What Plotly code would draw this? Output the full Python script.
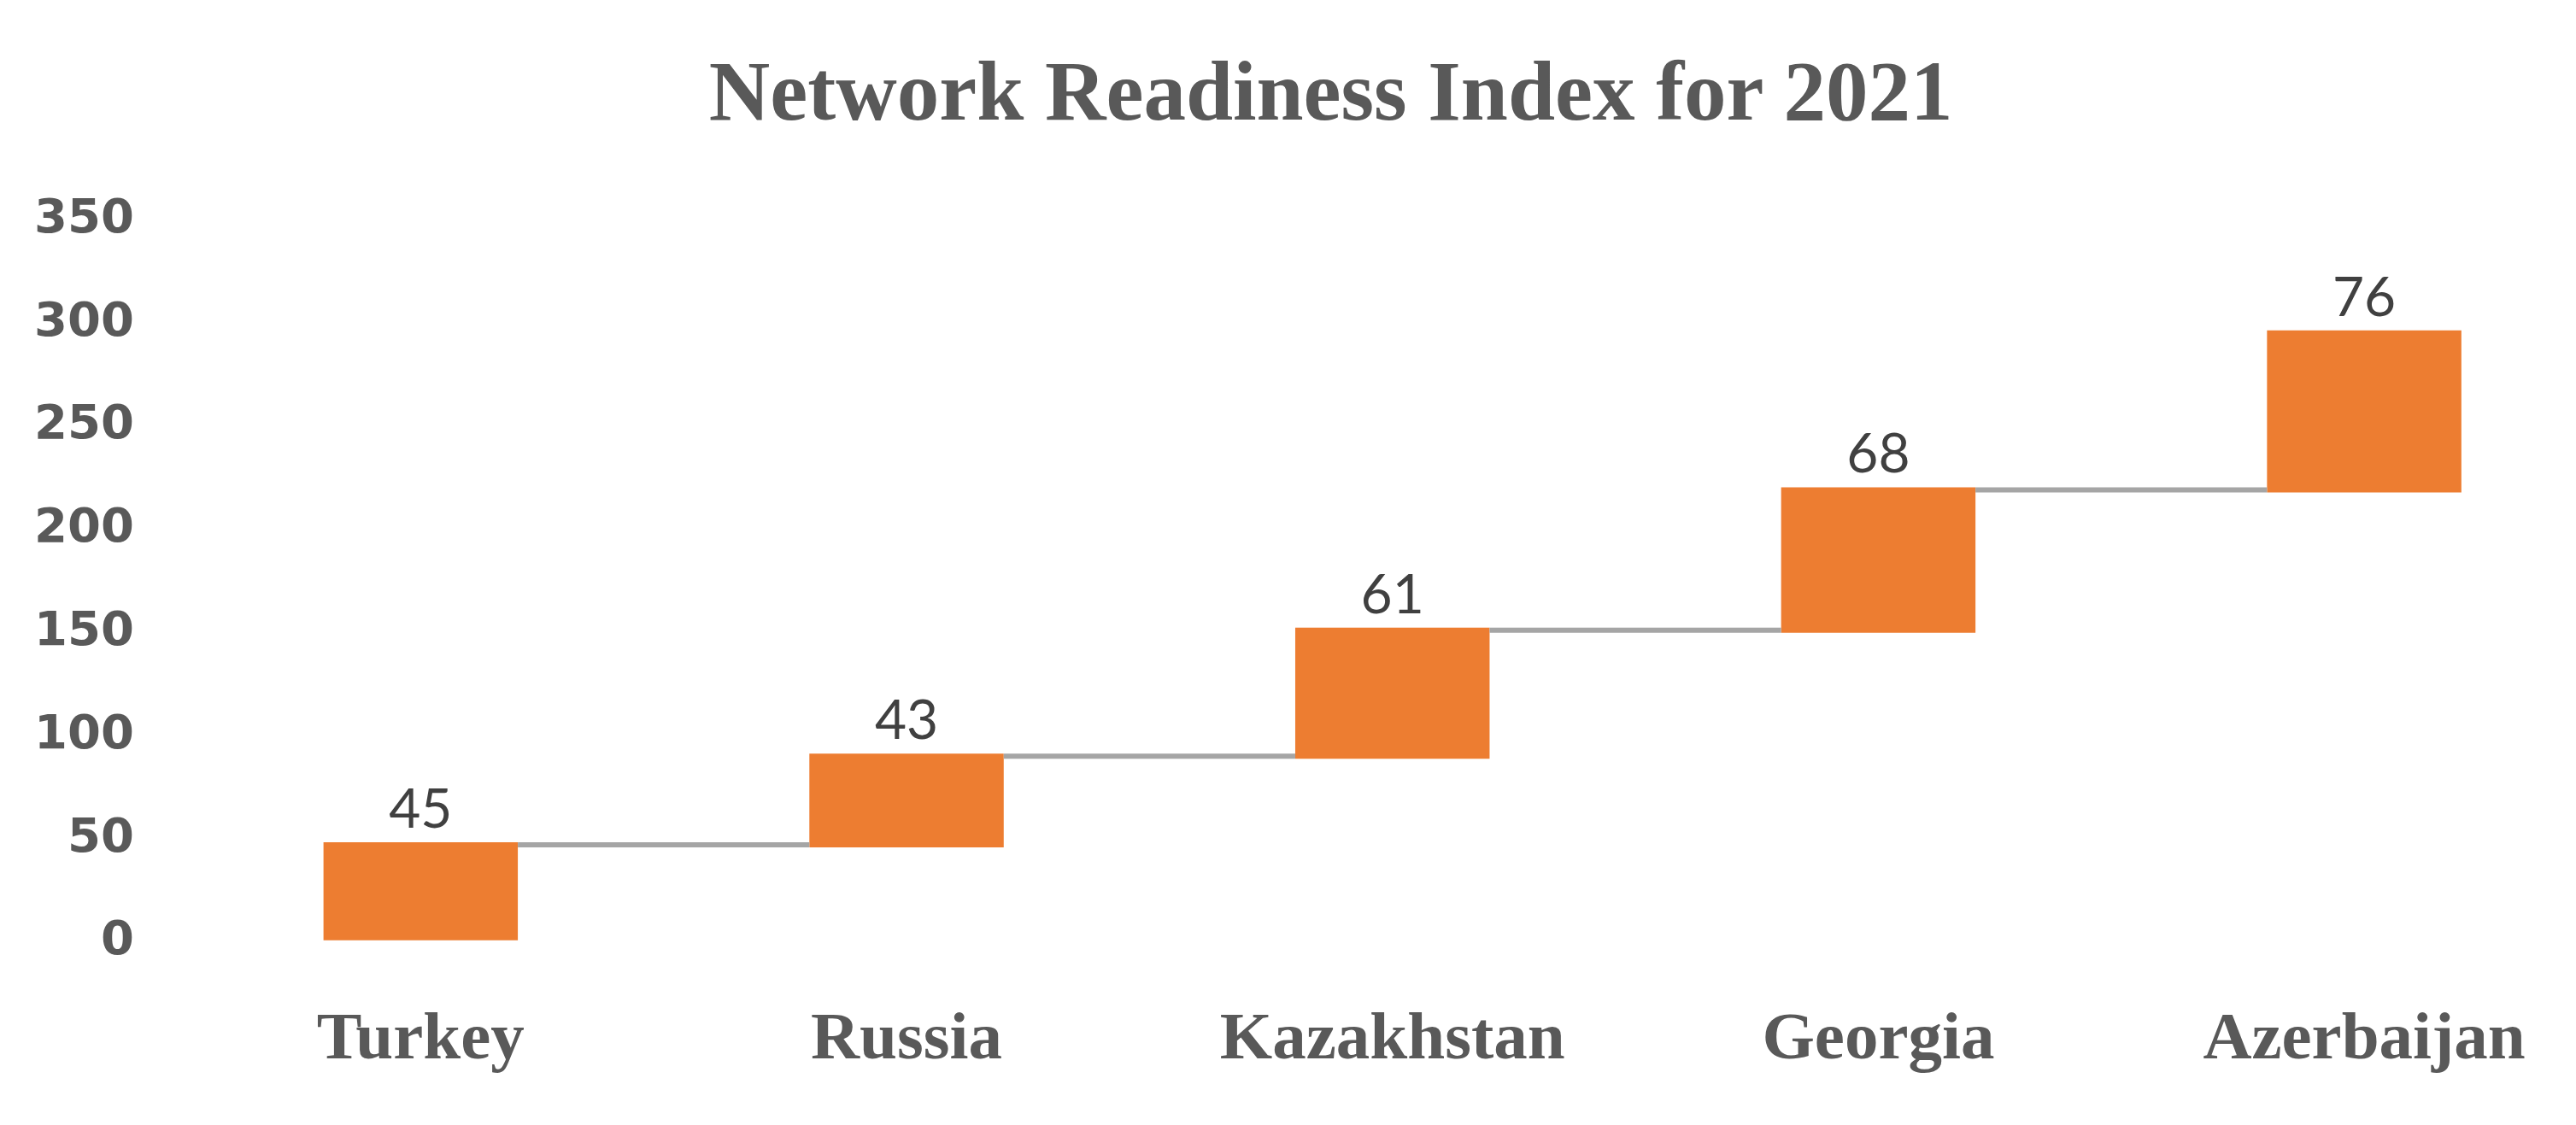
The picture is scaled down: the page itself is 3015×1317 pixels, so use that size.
import plotly.graph_objects as go

countries = ["Turkey", "Russia", "Kazakhstan", "Georgia", "Azerbaijan"]
scores = [45, 43, 61, 68, 76]
y_ticks = [0, 50, 100, 150, 200, 250, 300, 350]

fig = go.Figure(go.Waterfall(
    x=countries,
    y=scores,
    measure=["relative"] * len(scores),
    text=[str(v) for v in scores],
    textposition="outside",
    outsidetextfont=dict(family="Lato", size=64, color="#404040"),
    increasing=dict(marker=dict(color="#ED7D31", line=dict(width=0))),
    connector=dict(mode="between", line=dict(color="#A5A5A5", width=6)),
    width=0.4,
    cliponaxis=False,
    hoverinfo="skip",
))

fig.update_layout(
    width=3015, height=1317,
    paper_bgcolor="white", plot_bgcolor="white",
    margin=dict(l=200, r=0, t=220, b=191),
    showlegend=False,
    title=dict(text="<b>Network Readiness Index for 2021</b>", x=0.514, xanchor="center",
               y=1 - 97 / 1317, yanchor="middle",
               font=dict(family="Liberation Serif", size=99, color="#595959")),
    xaxis=dict(range=[-0.5, 4.45], showgrid=False, zeroline=False, showline=False,
               tickvals=countries,
               ticktext=[f"<b>{c}</b>" for c in countries],
               tickfont=dict(family="Liberation Serif", size=79, color="#595959"),
               ticklabelstandoff=25),
    yaxis=dict(range=[-15, 360], tickvals=y_ticks,
               ticktext=[f"<b>{v}</b>" for v in y_ticks],
               showgrid=False, zeroline=False, showline=False,
               tickfont=dict(family="DejaVu Sans", size=56, color="#595959"),
               ticklabelstandoff=50),
)

fig.write_html("out.html")
